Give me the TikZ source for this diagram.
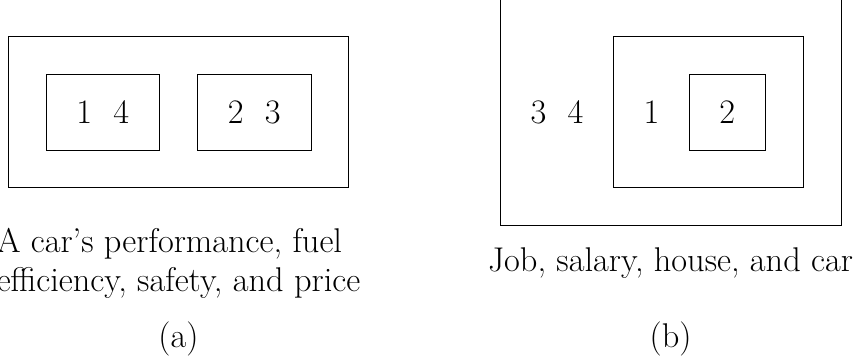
\documentclass[tikz,border=0pt]{standalone}
\begin{document}
\begin{tikzpicture}[x=1cm,y=1cm,
  boxline/.style={draw=black, line width=0.5pt},
  lbl/.style={font=\fontsize{25.8pt}{29.6pt}\selectfont, inner sep=0pt},
  captext/.style={font=\fontsize{25.8pt}{29.6pt}\selectfont, inner sep=0pt, align=left}]
\useasboundingbox (-4.716,2.959) rectangle (17.847,-6.605);
% panel (a)
\draw[boxline] (-4.5,-2) rectangle (4.5,2);
\draw[boxline] (-3.5,-1) rectangle (-0.5,1);
\draw[boxline] (0.5,-1) rectangle (3.5,1);
\node[lbl] (a14) at (-2,0) {1\hspace{16pt}4};
\node[lbl] (a23) at (2,0) {2\hspace{16pt}3};
\node[captext] (capa) at (0,-4) {A car's performance, fuel\\efficiency, safety, and price};
\node[lbl] (taga) at (0,-6) {(a)};
% panel (b)
\draw[boxline] (8.5,-3) rectangle (17.5,3);
\draw[boxline] (11.5,-2) rectangle (16.5,2);
\draw[boxline] (13.5,-1) rectangle (15.5,1);
\node[lbl] (b34) at (10,0) {3\hspace{16pt}4};
\node[lbl] (b1) at (12.5,0) {1};
\node[lbl] (b2) at (14.5,0) {2};
\node[captext] (capb) at (13,-4) {Job, salary, house, and car};
\node[lbl] (tagb) at (13,-6) {(b)};
\end{tikzpicture}
\end{document}
